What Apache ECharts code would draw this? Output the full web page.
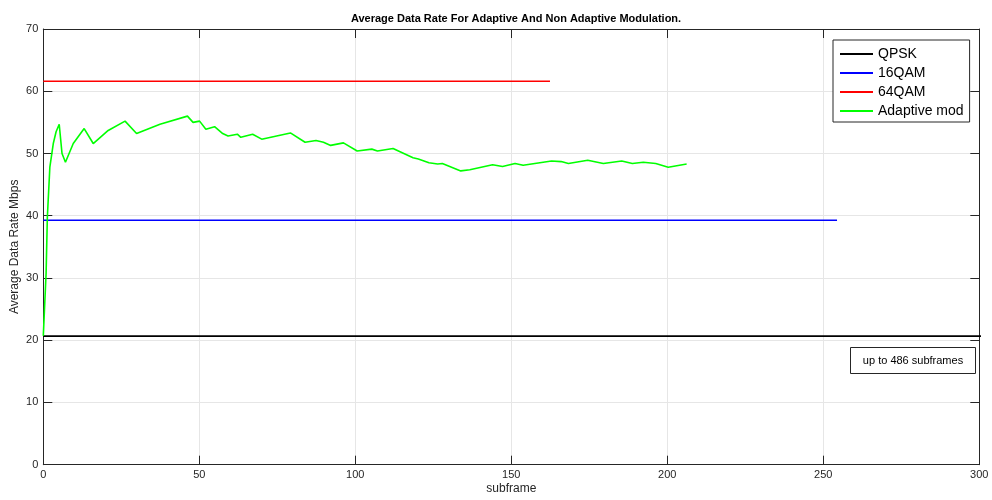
<!DOCTYPE html>
<html>
<head>
<meta charset="utf-8">
<script src="https://cdn.jsdelivr.net/npm/echarts@6/dist/echarts.min.js"></script>
<style>html,body{margin:0;padding:0;background:#fff}#c{width:992px;height:500px}</style>
</head>
<body>
<div id="c"></div>
<script>
const titleText = 'Average Data Rate For Adaptive And Non Adaptive Modulation.';
const xName = 'subframe';
const yName = 'Average Data Rate Mbps';
const seriesNames = ['QPSK', '16QAM', '64QAM', 'Adaptive mod'];
const seriesColors = ['#000000', '#0000ff', '#ff0000', '#00ff00'];
const xTicks = [0, 50, 100, 150, 200, 250, 300];
const yTicks = [0, 10, 20, 30, 40, 50, 60, 70];

const qpskX = [0, 486];
const qpskY = [20.66, 20.66];
const qam16X = [0, 254.4];
const qam16Y = [39.28, 39.28];
const qam64X = [0, 162.4];
const qam64Y = [61.6, 61.6];

const adaptiveX = [0, 0.9, 1.3, 2.1, 3.2, 4.1, 5.1, 6.0, 7.1, 9.6, 13.1, 16.0, 20.8, 26.2, 29.9, 37.4, 46.2, 48.0, 50.1, 52.1, 54.9, 57.5, 59.2, 62.2, 63.3, 67.1, 70.0, 79.2, 83.9, 87.4, 89.8, 92.1, 96.2, 100.6, 105.3, 107.1, 112.1, 118.5, 120.2, 123.6, 126.4, 127.9, 133.8, 136.7, 144.0, 147.2, 151.2, 153.8, 162.9, 166.0, 168.3, 174.5, 179.5, 185.4, 188.8, 192.3, 196.3, 200.3, 206.2];
const adaptiveY = [20.7, 30.8, 39.8, 47.8, 51.6, 53.5, 54.7, 50.0, 48.6, 51.6, 54.0, 51.6, 53.7, 55.2, 53.2, 54.7, 56.0, 55.0, 55.2, 53.9, 54.3, 53.2, 52.8, 53.1, 52.6, 53.1, 52.3, 53.3, 51.8, 52.1, 51.8, 51.3, 51.7, 50.4, 50.7, 50.4, 50.8, 49.3, 49.1, 48.5, 48.3, 48.4, 47.2, 47.4, 48.2, 47.9, 48.4, 48.1, 48.8, 48.7, 48.4, 48.9, 48.4, 48.8, 48.4, 48.6, 48.4, 47.8, 48.3];

const noteText = 'up to 486 subframes';

const zip = (xs, ys) => xs.map((x, i) => [x, ys[i]]);
const seriesData = [zip(qpskX, qpskY), zip(qam16X, qam16Y), zip(qam64X, qam64Y), zip(adaptiveX, adaptiveY)];

const FONT = '"Liberation Sans", Arial, Helvetica, sans-serif';
const AXC = '#262626';

const chart = echarts.init(document.getElementById('c'), null, {renderer: 'canvas'});
const xMin = xTicks[0], xMax = xTicks[xTicks.length - 1], xInt = xTicks[1] - xTicks[0];
const yMin = yTicks[0], yMax = yTicks[yTicks.length - 1], yInt = yTicks[1] - yTicks[0];

const baseAxis = {
  axisLine: {show: true, onZero: false, lineStyle: {color: AXC, width: 1}},
  axisTick: {show: true, inside: true, length: 9, lineStyle: {color: AXC, width: 1}},
};

chart.setOption({
  animation: false,
  backgroundColor: '#ffffff',
  title: {
    text: titleText, left: 511, top: 8, textAlign: 'center',
    textStyle: {fontFamily: FONT, fontSize: 11, fontWeight: 'bold', color: '#000'}
  },
  grid: {left: 43.3, right: 12.7, top: 29, bottom: 35.3, containLabel: false, outerBoundsMode: 'none'},
  legend: {
    orient: 'vertical', left: 833, top: 40,
    data: seriesNames.map(n => ({name: n, icon: 'rect'})),
    itemWidth: 33, itemHeight: 2, itemGap: 3,
    padding: [6, 6, 3, 7],
    borderColor: AXC, borderWidth: 1, backgroundColor: '#fff',
    textStyle: {fontFamily: FONT, fontSize: 14, color: '#000', lineHeight: 16}
  },
  xAxis: [
    Object.assign({}, baseAxis, {
      type: 'value', position: 'bottom', min: xMin, max: xMax, interval: xInt,
      name: xName, nameLocation: 'middle', nameGap: 18, nameMoveOverlap: false,
      nameTextStyle: {fontFamily: FONT, fontSize: 12, color: AXC},
      axisLabel: {fontFamily: FONT, fontSize: 11, color: AXC, margin: 5},
      splitLine: {show: true, lineStyle: {color: '#e6e6e6', width: 1}}
    }),
    Object.assign({}, baseAxis, {
      type: 'value', position: 'top', min: xMin, max: xMax, interval: xInt,
      axisLabel: {show: false}, splitLine: {show: false}
    })
  ],
  yAxis: [
    Object.assign({}, baseAxis, {
      type: 'value', position: 'left', min: yMin, max: yMax, interval: yInt,
      name: yName, nameLocation: 'middle', nameGap: 23, nameRotate: 90, nameMoveOverlap: false,
      nameTextStyle: {fontFamily: FONT, fontSize: 12, color: AXC},
      axisLabel: {fontFamily: FONT, fontSize: 11, color: AXC, margin: 5},
      splitLine: {show: true, lineStyle: {color: '#e6e6e6', width: 1}}
    }),
    Object.assign({}, baseAxis, {
      type: 'value', position: 'right', min: yMin, max: yMax, interval: yInt,
      axisLabel: {show: false}, splitLine: {show: false}
    })
  ],
  series: seriesNames.map((name, i) => ({
    name: name, type: 'line', data: seriesData[i],
    xAxisIndex: 0, yAxisIndex: 0,
    showSymbol: false, symbol: 'none', clip: true,
    lineStyle: {color: seriesColors[i], width: 1.6},
    itemStyle: {color: seriesColors[i]},
    z: 2 + i
  })),
  graphic: [{
    type: 'group', left: 850, top: 347,
    children: [
      {type: 'rect', shape: {x: 0, y: 0, width: 125, height: 26}, style: {fill: '#fff', stroke: AXC, lineWidth: 1}},
      {type: 'text', x: 62.5, y: 13, style: {text: noteText, fontFamily: FONT, fontSize: 11, fill: '#000', align: 'center', verticalAlign: 'middle'}}
    ]
  }]
});
</script>
</body>
</html>
